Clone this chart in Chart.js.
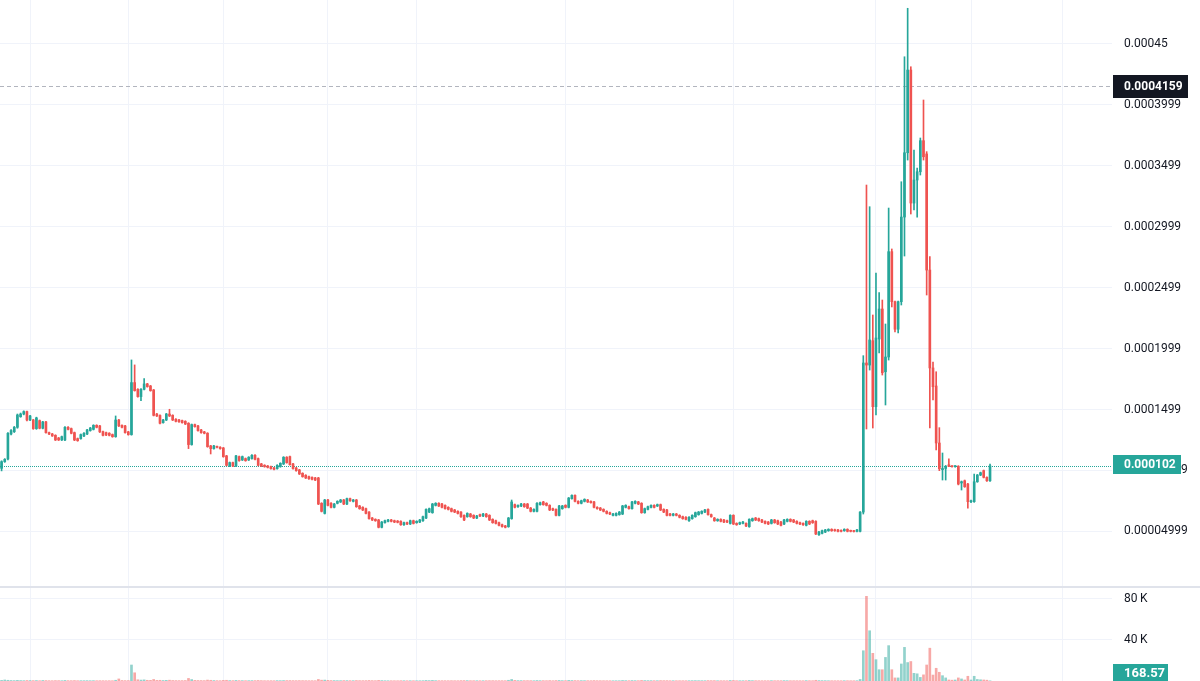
<!DOCTYPE html>
<html lang="en">
<head>
<meta charset="UTF-8" />
<title>Candles</title>
<script src="https://cdn.jsdelivr.net/npm/chart.js"></script>
<style>
  body { margin: 0; background: #fff; }
  #wrap { position: relative; width: 1200px; height: 681px; overflow: hidden; }
  #main { position: absolute; left: 0; top: 0; }
  #sep { position: absolute; left: 0; top: 586px; width: 1200px; height: 2px; background: #e0e3eb; }
  #vol { position: absolute; left: 0; top: 588px; }
</style>
</head>
<body>
<div id="wrap">
  <canvas id="main" width="1200" height="586"></canvas>
  <div id="sep"></div>
  <canvas id="vol" width="1200" height="93"></canvas>
</div>
<script>
// prices are in millionths: 102 means 0.000102
const openP = [
  101.6,107.1,109.3,129.8,131.7,135.3,144.0,146.2,148.2,141.3, 141.3,134.2,140.8,134.5,139.7,130.9,129.8,128.7,126.5,124.9,
  124.9,135.3,134.2,130.9,126.0,126.0,128.2,129.8,132.6,133.6, 136.9,136.4,131.7,130.9,130.4,129.3,127.6,141.3,136.9,136.4,
  131.5,129.3,172.0,166.5,160.5,166.5,170.9,169.2,165.9,146.2, 145.0,139.1,141.3,146.2,145.1,141.9,141.3,140.8,140.2,138.6,
  121.1,137.5,136.4,133.1,131.5,130.4,120.0,117.8,119.4,118.9, 118.3,111.8,103.5,106.3,103.5,111.2,108.5,109.6,108.5,109.6,
  112.3,109.6,105.2,104.1,103.5,103.0,101.9,101.4,103.0,105.2, 110.7,111.2,105.2,101.9,100.3,97.5,95.9,94.8,94.2,93.7,
  93.7,72.9,64.6,75.6,72.9,69.6,72.9,74.0,75.6,72.3, 76.7,74.5,75.6,70.7,69.6,68.5,65.7,60.8,59.7,59.2,
  53.2,57.0,58.1,59.2,58.6,58.3,58.1,55.3,57.0,55.9, 58.6,57.0,57.5,58.6,60.8,65.7,65.2,71.2,72.9,72.3,
  71.2,69.6,68.5,67.4,66.3,65.7,63.0,61.9,64.1,63.0, 60.8,63.6,62.5,64.1,63.0,59.7,58.6,57.0,55.3,54.3,
  53.7,60.3,71.8,70.1,70.7,72.3,72.3,69.0,66.3,66.3, 71.8,74.0,72.9,71.2,68.5,67.9,63.0,68.5,71.2,69.6,
  76.7,79.4,74.5,
  72.9,74.5,75.6,74.5,74.0,69.6,69.0,67.9,66.3,65.2, 63.0,63.0,63.6,64.1,69.6,70.1,68.5,72.9,74.0,72.9,
  65.2,67.9,69.6,71.2,70.7,71.8,67.9,67.4,64.1,63.0, 64.1,63.0,61.9,61.4,58.6,60.3,61.9,63.6,64.6,65.7,
  67.9,63.6,60.8,58.6,59.7,59.2,58.6,56.4,63.0,56.4, 55.9,56.4,56.4,53.7,58.6,60.8,60.3,59.2,58.1,57.5,
  56.4,59.2,58.6,57.5,55.9,58.1,59.7,59.2,58.1,57.0, 56.4,54.8,58.1,58.6,58.1,47.1,48.2,49.3,50.4,51.5,
  51.2,51.0,50.4,50.4,51.5,50.4,50.2,49.9,49.9,
  65.7,188.1,186.4,206.4,152.2,207.8,232.4,180.9,193.0,279.5, 238.4,215.8,238.4,307.9,360.7,428.6,319.4,338.3,345.1,370.6,
  359.7,264.4,184.0,169.2,122.4,100.5,101.5,104.5,103.2,103.0, 103.3,89.6,91.4,88.7,74.2,74.2,90.6,96.1,99.7,94.2,
  91.4
]
const highP = [
  107.8,109.6,131.0,133.5,136.0,146.2,147.0,148.8,148.6,145.2, 141.8,143.6,141.3,140.2,140.2,131.4,130.3,129.2,127.0,128.1,
  135.8,135.8,134.7,131.4,126.5,129.8,130.9,133.6,135.2,137.4, 137.4,136.9,132.2,131.4,130.9,129.8,144.6,141.8,137.4,136.9,
  132.0,190.6,186.5,167.0,167.0,175.3,171.4,169.7,166.4,146.7, 145.5,141.8,146.7,150.1,145.6,142.4,141.8,141.3,140.7,139.1,
  138.0,138.0,136.9,133.6,132.0,130.9,120.5,120.5,119.9,119.4, 118.8,112.3,106.8,106.8,112.3,111.7,111.7,110.1,111.2,112.8,
  112.8,110.1,105.7,104.6,104.0,103.5,102.4,104.6,106.2,111.2, 111.2,111.7,105.7,102.4,100.8,98.0,96.4,95.3,94.7,94.2,
  94.2,73.4,76.1,76.1,73.4,72.8,75.0,76.1,76.1,77.2, 77.2,76.1,76.1,71.2,70.1,69.0,66.2,61.3,60.2,59.7,
  58.0,59.1,59.7,59.7,59.1,58.8,58.6,57.5,57.5,59.1, 59.1,58.6,59.7,62.4,68.4,69.0,72.8,73.4,73.4,72.8,
  71.7,70.1,69.0,67.9,66.8,66.2,63.5,65.1,64.6,63.5, 63.0,64.1,64.6,64.6,63.5,60.2,59.1,57.5,55.8,54.8,
  61.3,75.6,72.3,71.7,72.8,72.8,72.8,69.5,68.4,73.4, 73.9,74.5,73.4,71.7,69.0,68.4,71.2,71.2,71.7,77.7,
  79.9,79.9,75.0,
  75.5,76.6,76.1,75.0,74.5,70.1,69.5,68.4,66.8,65.7, 64.6,65.1,66.2,71.2,71.7,70.6,74.5,75.0,74.5,73.4,
  69.0,70.6,71.7,71.7,72.3,72.3,68.4,67.9,64.6,64.6, 64.6,63.5,62.4,61.9,61.9,63.5,65.7,66.2,66.8,67.9,
  68.4,64.1,61.3,60.2,60.2,59.7,59.1,63.5,63.5,56.9, 57.5,58.0,56.9,60.2,60.8,61.3,60.8,59.7,58.6,58.0,
  59.7,59.7,59.1,58.0,59.7,60.2,60.2,59.7,58.6,57.5, 56.9,58.6,58.6,59.1,58.6,49.8,50.9,51.5,52.0,52.0,
  51.7,51.5,51.2,52.0,52.0,50.9,50.7,51.5,66.2,
  194.1,334.2,316.4,227.5,262.0,245.8,239.8,220.1,315.3,281.7, 239.0,239.0,336.9,439.5,479.3,431.3,362.9,348.2,372.8,404.0,
  361.6,275.4,188.9,180.9,135.0,114.2,104.0,109.5,103.7,103.8, 103.8,91.2,92.0,89.2,75.5,96.9,96.6,98.5,100.2,94.7,
  105.0
]
const lowP = [
  99.5,106.5,108.5,129.0,131.0,134.5,143.5,145.5,140.5,140.8, 133.6,133.6,134.0,134.0,130.4,129.3,127.8,124.4,124.4,124.4,
  124.4,133.1,129.9,124.3,123.8,125.5,127.7,129.3,132.1,133.1, 134.8,131.0,128.2,128.5,128.2,127.1,127.1,135.9,134.8,130.4,
  128.8,128.8,165.0,160.0,157.2,166.0,168.2,164.9,144.6,144.1, 138.1,138.6,140.8,144.1,140.8,139.7,139.4,138.6,137.5,117.8,
  120.6,135.3,132.1,130.4,129.9,118.9,113.4,117.3,118.4,117.3, 110.7,103.6,103.0,103.0,103.0,107.4,108.0,107.4,108.0,109.1,
  108.5,103.6,103.0,102.5,101.9,100.9,100.3,100.9,102.5,104.7, 105.8,104.1,100.9,99.2,96.5,94.3,93.2,92.6,92.1,91.5,
  71.8,65.8,64.1,70.7,69.1,69.1,72.4,73.5,71.8,71.8, 74.5,74.0,69.6,68.0,66.9,64.1,59.8,58.7,58.1,52.7,
  52.7,56.5,57.6,57.6,57.0,56.8,54.8,54.8,55.4,55.4, 55.9,56.5,57.0,58.1,60.3,65.2,64.7,70.7,70.2,69.1,
  68.0,67.4,65.8,65.2,64.1,61.4,58.7,61.4,61.4,60.3, 60.3,62.0,62.0,61.4,58.7,56.5,55.9,54.3,53.2,52.7,
  53.2,59.8,69.1,69.6,70.2,69.6,68.5,65.8,65.8,65.8, 71.3,71.3,70.7,66.9,66.9,62.5,62.5,68.0,69.1,69.1,
  76.2,74.0,72.4,
  72.4,74.0,73.5,72.9,69.1,68.0,66.9,65.8,64.1,63.6, 62.5,62.5,63.1,63.6,69.1,68.0,68.0,72.4,71.8,64.7,
  64.7,67.4,69.1,69.1,70.2,66.9,65.2,62.5,62.5,62.5, 62.5,60.9,59.8,59.2,58.1,59.8,61.4,63.1,64.1,65.2,
  63.1,61.4,58.1,58.1,57.6,57.0,57.0,55.9,55.4,54.8, 55.4,55.9,53.8,53.2,58.1,58.7,58.1,57.0,55.9,55.4,
  55.9,56.5,55.4,54.3,55.4,57.6,57.6,57.0,55.9,55.4, 54.8,54.3,55.4,56.4,47.2,46.6,47.7,48.8,49.9,49.9,
  49.9,49.4,49.4,49.9,49.4,49.4,49.3,49.4,49.4,
  64.1,133.9,182.3,134.7,145.4,196.3,178.2,153.6,190.5,234.1, 213.5,212.7,235.7,275.9,354.7,310.4,313.7,307.9,342.4,354.7,
  243.9,134.7,157.7,116.7,99.7,92.0,92.0,103.0,102.5,102.5, 88.0,83.8,86.0,69.0,73.5,73.7,90.1,95.6,93.7,90.9,
  90.9
]
const closeP = [
  107.1,109.0,130.4,132.6,135.3,145.4,146.2,148.2,141.3,144.6, 134.2,143.0,134.5,139.7,130.9,129.8,128.2,124.9,124.9,127.6,
  135.3,133.6,130.4,124.9,124.3,129.3,130.4,133.1,134.7,136.9, 135.3,131.5,128.7,129.0,128.7,127.6,141.3,136.4,135.3,130.9,
  129.3,172.0,165.4,160.5,166.5,170.9,168.7,165.4,145.1,144.6, 138.6,141.3,146.2,144.6,141.3,140.2,139.9,139.1,138.0,121.1,
  137.5,135.8,132.6,130.9,130.4,119.4,117.8,120.0,118.9,117.8, 111.2,104.1,106.3,103.5,111.8,107.9,111.2,107.9,110.7,112.3,
  109.0,104.1,103.5,103.0,102.4,101.4,100.8,104.1,105.7,110.7, 106.3,104.6,101.4,99.7,97.0,94.8,93.7,93.1,92.6,92.0,
  72.3,66.3,75.6,71.2,69.6,72.3,74.5,75.6,72.3,76.7, 75.0,75.6,70.1,68.5,67.4,64.6,60.3,59.2,58.6,53.2,
  57.5,58.6,59.2,58.1,57.5,57.3,55.3,57.0,55.9,58.6, 56.4,58.1,59.2,61.9,67.9,68.5,72.3,72.9,70.7,69.6,
  68.5,67.9,66.3,65.7,64.6,61.9,59.2,64.6,61.9,60.8, 62.5,62.5,64.1,61.9,59.2,57.0,56.4,54.8,53.7,53.2,
  60.8,74.0,69.6,71.2,72.3,70.1,69.0,66.3,67.9,72.9, 73.4,71.8,71.2,67.4,67.4,63.0,70.7,70.7,69.6,77.2,
  79.4,74.5,72.9,
  75.0,76.1,74.0,73.4,69.6,68.5,67.4,66.3,64.6,64.1, 64.1,64.6,65.7,70.7,71.2,68.5,74.0,74.5,72.3,65.2,
  68.5,70.1,71.2,69.6,71.8,67.4,65.7,63.0,63.0,64.1, 63.0,61.4,60.3,59.7,61.4,63.0,65.2,65.7,66.3,67.4,
  63.6,61.9,58.6,59.7,58.1,57.5,57.5,63.0,55.9,55.3, 57.0,57.5,54.3,59.7,60.3,59.2,58.6,57.5,56.4,55.9,
  59.2,57.0,55.9,54.8,59.2,59.7,58.1,57.5,56.4,55.9, 55.3,58.1,55.9,57.0,47.7,49.3,50.4,51.0,51.5,50.4,
  50.4,49.9,49.9,51.5,49.9,49.9,49.7,51.0,65.7,
  188.1,186.4,207.0,152.2,208.6,232.4,180.1,193.0,279.5,238.4, 215.8,238.4,307.9,360.7,428.6,319.4,338.3,345.1,370.6,357.4,
  264.4,184.0,168.6,122.4,101.3,101.5,103.0,103.2,103.0,103.3, 88.7,90.6,86.5,74.2,75.0,90.6,96.1,98.0,94.2,91.4,
  103.6
]
const volume = [
  600,1000,700,500,400,650,450,350,500,420,380,460,300,520,410,330,280,390,350,300,
  540,360,310,420,290,330,310,370,300,350,280,330,300,260,290,270,720,2000,500,400,
  380,15600,8000,1200,900,1100,700,650,1500,600,700,500,650,800,500,420,380,400,450,2500,
  1400,600,500,450,380,900,700,450,350,320,600,700,420,380,560,400,360,330,350,400,
  380,520,360,300,280,310,290,380,350,460,420,440,380,350,400,370,330,300,310,290,
  1500,800,900,600,450,420,380,360,420,400,350,330,450,380,350,400,520,380,330,600,
  420,300,280,270,260,250,320,290,270,300,280,260,270,330,560,420,600,380,330,320,
  310,300,320,290,280,400,420,380,330,310,300,280,300,310,350,340,300,330,320,300,
  700,1500,600,400,380,360,380,350,300,480,360,350,330,420,300,450,520,360,330,600,
  480,420,350,380,360,330,300,420,330,310,300,290,280,270,280,290,520,380,330,440,
  360,330,560,420,380,350,320,330,420,360,380,300,290,280,300,290,280,330,360,380,
  350,330,310,420,360,380,300,290,280,270,520,480,300,280,290,310,500,380,320,300,
  290,300,280,360,300,310,320,380,330,300,290,280,290,270,380,320,300,700,420,380,
  340,300,280,270,290,260,300,280,260,250,300,1500,
  29500,82600,49000,27000,20800,11000,11000,23000,34500,11000,3000,3000,16600,32800,18000,19000,7500,7000,3500,6000,
  15600,32000,5800,12400,8500,5200,3000,1000,800,1000,3000,2000,1000,4600,1000,4600,1500,1200,1000,800,
  168.57
]

const slotCount = 351
const priceTicks = [49.99, 99.99, 149.9, 199.9, 249.9, 299.9, 349.9, 399.9, 450]
const priceTickLabels = ["0.00004999", "0.00009999", "0.0001499", "0.0001999", "0.0002499", "0.0002999", "0.0003499", "0.0003999", "0.00045"]
const volTicks = [40000, 80000]
const volTickLabels = ["40\u2009K", "80\u2009K"]
const gridBars = [9, 40, 70, 103, 131, 178, 231, 276, 306, 335]
const markedHigh = 415.9
const markedHighLabel = "0.0004159"
const lastPriceLabel = "0.000102"
const lastVolumeLabel = "168.57"

const UP = "#26a69a"
const DOWN = "#ef5350"
const UP_VOL = "rgba(38,166,154,0.5)"
const DOWN_VOL = "rgba(239,83,80,0.5)"

Chart.defaults.font.family = "Roboto"
Chart.defaults.font.size = 12

const labels = Array.from({ length: slotCount }, (_, i) => String(i))
const isUp = openP.map((o, i) => closeP[i] >= o)
const candleColors = isUp.map((u) => (u ? UP : DOWN))
const volColors = isUp.map((u) => (u ? UP_VOL : DOWN_VOL))
const bodies = openP.map((o, i) => [o, closeP[i]])
const wicks = lowP.map((l, i) => [l, highP[i]])
const lastPrice = closeP[closeP.length - 1]

const xAxis = () => ({
  ticks: { display: false },
  grid: { color: "#f0f3fa", offset: false, drawTicks: false },
  border: { display: false },
  afterBuildTicks: (s) => { s.ticks = gridBars.map((v) => ({ value: v })) },
  afterFit: (s) => { s.height = 0 },
})

const fitRight = (s) => {
  s.width = 88
  s.paddingTop = 0
  s.paddingBottom = 0
}

// box on the price scale with a white value in it
function drawTag(ctx, x, top, w, h, bg, text, font, textY) {
  ctx.save()
  ctx.fillStyle = bg
  ctx.fillRect(x, top, w, h)
  ctx.fillStyle = "#ffffff"
  ctx.font = font
  ctx.textBaseline = "middle"
  ctx.textAlign = "left"
  ctx.fillText(text, 1124, textY)
  ctx.restore()
}

const priceMarks = {
  id: "priceMarks",
  beforeDatasetsDraw(chart) {
    const { ctx, chartArea, scales } = chart
    const y = scales.y
    ctx.save()
    ctx.lineWidth = 1
    let py = Math.round(y.getPixelForValue(markedHigh)) + 0.5
    ctx.strokeStyle = "#b2b5be"
    ctx.setLineDash([4, 3])
    ctx.beginPath(); ctx.moveTo(0, py); ctx.lineTo(chartArea.right, py); ctx.stroke()
    py = Math.round(y.getPixelForValue(lastPrice)) + 0.5
    ctx.strokeStyle = UP
    ctx.setLineDash([1, 1])
    ctx.beginPath(); ctx.moveTo(0, py); ctx.lineTo(chartArea.right, py); ctx.stroke()
    ctx.restore()
  },
  afterDraw(chart) {
    const { ctx, chartArea, scales } = chart
    const y = scales.y
    const hy = Math.round(y.getPixelForValue(markedHigh))
    drawTag(ctx, chartArea.right + 1, hy - 11, 75, 23, "#131722", markedHighLabel, "bold 12px Roboto", hy + 0.5)
    const ly = Math.round(y.getPixelForValue(lastPrice))
    drawTag(ctx, chartArea.right + 1, ly - 11, 68, 19, UP, lastPriceLabel, "bold 12px Roboto", ly - 1.5)
  },
}

const volMark = {
  id: "volMark",
  afterDraw(chart) {
    const { ctx, chartArea } = chart
    drawTag(ctx, chartArea.right + 1, 76, 55, 22, UP, lastVolumeLabel, "bold 13px Roboto", 85.5)
  },
}

new Chart(document.getElementById("main"), {
  type: "bar",
  data: {
    labels: labels,
    datasets: [
      { data: bodies, backgroundColor: candleColors, barThickness: 2, minBarLength: 1, grouped: false },
      { data: wicks, backgroundColor: candleColors, barThickness: 1, minBarLength: 1, grouped: false },
    ],
  },
  options: {
    responsive: false,
    animation: false,
    layout: { padding: 0 },
    plugins: { legend: { display: false }, tooltip: { enabled: false } },
    scales: {
      x: xAxis(),
      y: {
        position: "right",
        min: 5,
        max: 486.1,
        grid: { color: "#f0f3fa", drawTicks: false },
        border: { display: false },
        ticks: {
          color: "#131722",
          padding: 12,
          crossAlign: "near",
          callback: (v) => priceTickLabels[priceTicks.indexOf(v)],
        },
        afterBuildTicks: (s) => { s.ticks = priceTicks.map((v) => ({ value: v })) },
        afterFit: fitRight,
      },
    },
  },
  plugins: [priceMarks],
})

new Chart(document.getElementById("vol"), {
  type: "bar",
  data: {
    labels: labels,
    datasets: [
      { data: volume, backgroundColor: volColors, barThickness: 2, grouped: false },
    ],
  },
  options: {
    responsive: false,
    animation: false,
    layout: { padding: 0 },
    plugins: { legend: { display: false }, tooltip: { enabled: false } },
    scales: {
      x: xAxis(),
      y: {
        position: "right",
        min: 0,
        max: 90700,
        grid: { color: "#f0f3fa", drawTicks: false },
        border: { display: false },
        ticks: {
          color: "#131722",
          padding: 12,
          crossAlign: "near",
          callback: (v) => volTickLabels[volTicks.indexOf(v)],
        },
        afterBuildTicks: (s) => { s.ticks = volTicks.map((v) => ({ value: v })) },
        afterFit: fitRight,
      },
    },
  },
  plugins: [volMark],
})
</script>
</body>
</html>
